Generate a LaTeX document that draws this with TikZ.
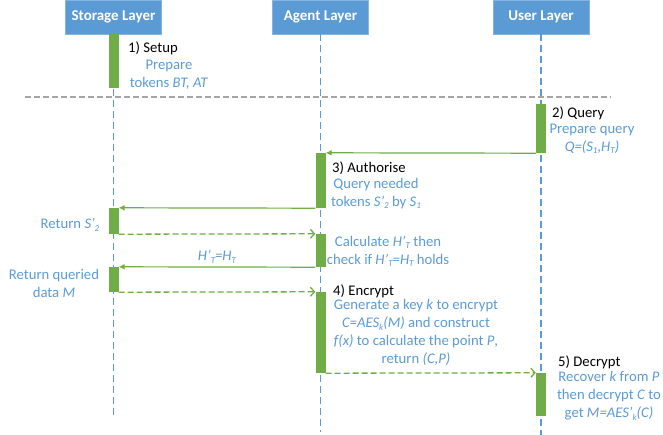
\documentclass[tikz,border=0pt]{standalone}
\usepackage{fontspec}
\setmainfont{Carlito}
\usetikzlibrary{arrows.meta}
\definecolor{hdr}{HTML}{5B9BD5}
\definecolor{txtblue}{HTML}{5B9BD5}
\definecolor{grn}{HTML}{70AD47}
\definecolor{gry}{HTML}{A5A5A5}
\newcommand\sbs[1]{\raisebox{-0.35ex}{\fontsize{9}{10}\selectfont #1}}
\begin{document}
\begin{tikzpicture}[x=1pt,y=-1pt,
  font=\fontsize{14.7}{18}\selectfont,
  header/.style={fill=hdr, draw=hdr!75!white, line width=0.8pt, text=white, font=\fontsize{15}{18}\selectfont\bfseries, minimum width=96pt, minimum height=34pt, inner sep=0pt},
  bar/.style={fill=grn, draw=none, minimum width=10pt, inner sep=0pt},
  life/.style={hdr, line width=1.6pt, dash pattern=on 7pt off 4pt},
  msg/.style={grn, line width=1.2pt, -{Latex[length=6pt,width=6pt]}},
  ret/.style={grn, line width=1.3pt, dash pattern=on 6pt off 3pt, -{Straight Barb[length=4pt,width=9pt]}},
  blue/.style={text=txtblue, align=center, inner sep=0pt},
  lbl/.style={anchor=west, inner sep=0pt, text=black}]
\useasboundingbox (0,0) rectangle (663,435);
% headers
\node[header] (hs) at (113.5,17) {Storage Layer};
\node[header] (ha) at (320.5,17) {Agent Layer};
\node[header] (hu) at (541,17) {User Layer};
% lifeline ends
\coordinate (es) at (113.5,418);
\coordinate (ea) at (320.5,432);
\coordinate (eu) at (541,435);
\draw[life] (hs.south) -- (es);
\draw[life] (ha.south) -- (ea);
\draw[life] (hu.south) -- (eu);
% separator
\coordinate (gl) at (25,97);
\coordinate (gr) at (611,97);
\draw[gry, line width=1.4pt, dash pattern=on 6pt off 3pt] (gl) -- (gr);
% activation bars
\node[bar, minimum height=54pt] (s1) at (113.5,61) {};
\node[bar, minimum height=49pt] (q) at (541,128.5) {};
\node[bar, minimum height=55pt] (a1) at (320.5,180.5) {};
\node[bar, minimum height=26pt] (s2) at (113.5,221) {};
\node[bar, minimum height=33pt] (a2) at (320.5,250.5) {};
\node[bar, minimum height=25pt] (s3) at (113.5,279.5) {};
\node[bar, minimum height=81pt] (a3) at (320.5,332.5) {};
\node[bar, minimum height=43pt] (u2) at (541,394.5) {};
% messages
\draw[msg] (q.south west) -- (a1.north east);
\draw[msg] (a1.south west) -- (s2.north east);
\draw[ret] (s2.south east) -- (a2.north west);
\draw[msg] (a2.south west) -- node[blue, above=3pt] (hl) {\textit{H'\sbs{T}=H\sbs{T}}} (s3.north east);
\draw[ret] (s3.south east) -- (a3.north west);
\draw[ret] (a3.south east) -- (u2.north west);
% labels
\node[lbl] (t1) at (128,48) {1) Setup};
\node[blue] (d1) at (169,75) {Prepare\\tokens \textit{BT, AT}};
\node[lbl] (t2) at (552,113) {2) Query};
\node[blue] (d2) at (592,139) {Prepare query\\\textit{Q=(S\sbs{1},H\sbs{T})}};
\node[lbl] (t3) at (332,168) {3) Authorise};
\node[blue] (d3) at (376,193.5) {Query needed\\tokens \textit{S'\sbs{2}} by \textit{S\sbs{1}}};
\node[blue] (r1) at (70,225) {Return \textit{S'\sbs{2}}};
\node[blue] (d4) at (388,251.5) {Calculate \textit{H'\sbs{T}} then\\check if \textit{H'\sbs{T}=H\sbs{T}} holds};
\node[blue] (r2) at (54,283) {Return queried\\data \textit{M}};
\node[lbl] (t4) at (333,291) {4) Encrypt};
\node[blue] (d5) at (416,332.5) {Generate a key \textit{k} to encrypt\\\textit{C=AES\sbs{k}(M)} and construct\\\textit{f(x)} to calculate the point \textit{P},\\return \textit{(C,P)}};
\node[lbl] (t5) at (558,362) {5) Decrypt};
\node[blue] (d6) at (609,396) {Recover \textit{k} from \textit{P}\\then decrypt \textit{C} to\\get \textit{M=AES'\sbs{k}(C)}};
\end{tikzpicture}
\end{document}
